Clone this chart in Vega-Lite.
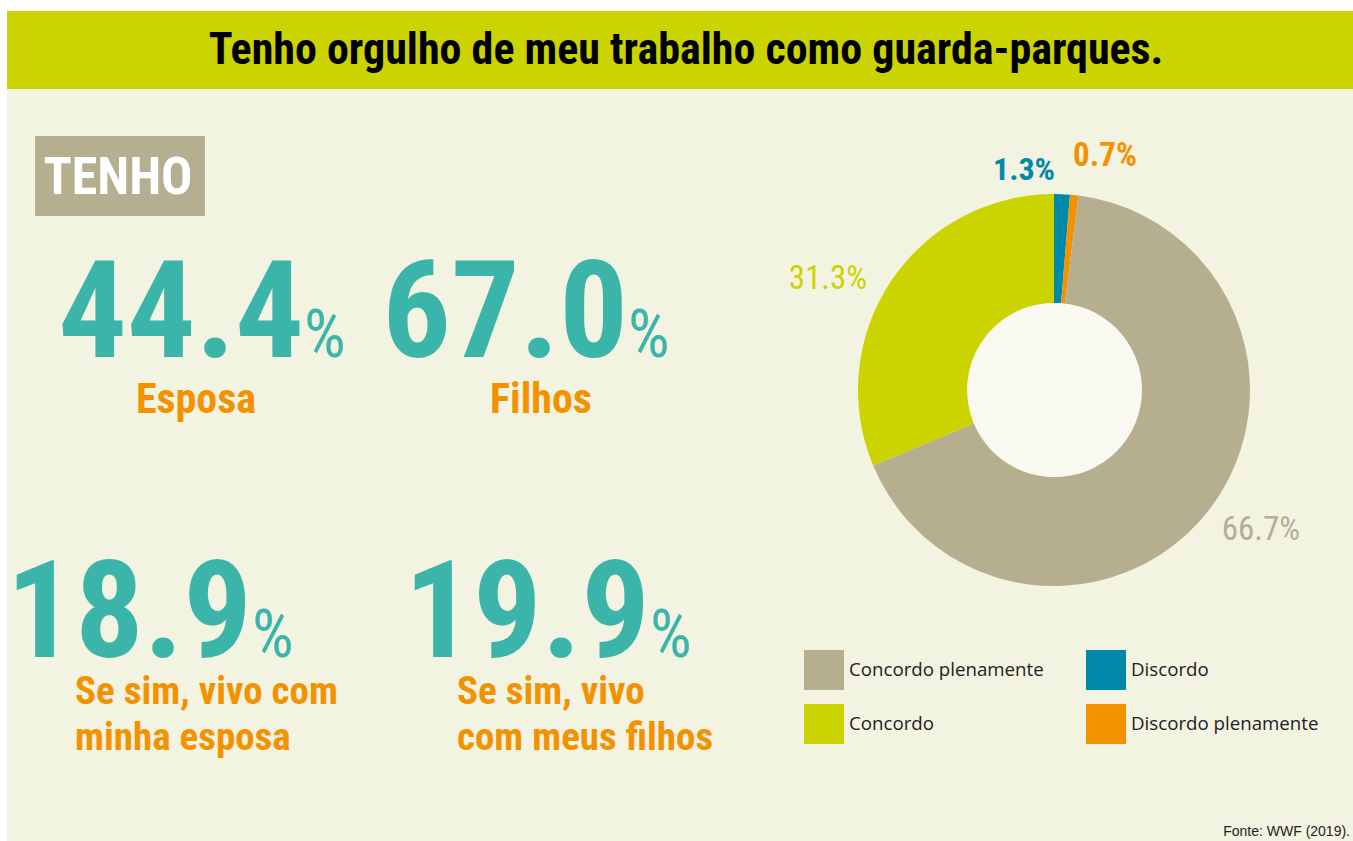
{
  "$schema": "https://vega.github.io/schema/vega-lite/v6.json",
  "width": 1353,
  "height": 841,
  "autosize": {"type": "none"},
  "padding": 0,
  "background": "#ffffff",
  "config": {"view": {"stroke": null}},
  "datasets": {
    "painel": [{"parte": "fundo"}],
    "titulo": [{"texto": "Tenho orgulho de meu trabalho como guarda-parques."}],
    "destaque": [{"texto": "TENHO"}],
    "estatisticas": [
      {"id": "esposa", "valor": 44.4, "rotulo": "Esposa"},
      {"id": "filhos", "valor": 67.0, "rotulo": "Filhos"},
      {"id": "vive_esposa", "valor": 18.9, "rotulo": "Se sim, vivo com\nminha esposa"},
      {"id": "vive_filhos", "valor": 19.9, "rotulo": "Se sim, vivo\ncom meus filhos"}
    ],
    "respostas": [
      {"resposta": "Discordo", "pct": 1.3, "ordem": 1},
      {"resposta": "Discordo plenamente", "pct": 0.7, "ordem": 2},
      {"resposta": "Concordo plenamente", "pct": 66.7, "ordem": 3},
      {"resposta": "Concordo", "pct": 31.3, "ordem": 4}
    ],
    "fonte": [{"texto": "Fonte: WWF (2019)."}]
  },
  "layer": [
    {
      "data": {"name": "painel"},
      "mark": {"type": "rect", "color": "#f3f3e2"},
      "encoding": {
        "x": {"datum": 7, "type": "quantitative", "scale": {"domain": [0, 1353], "nice": false, "zero": false}, "axis": null},
        "x2": {"datum": 1353},
        "y": {"datum": 89, "type": "quantitative", "scale": {"domain": [0, 841], "nice": false, "zero": false, "reverse": true}, "axis": null},
        "y2": {"datum": 841}
      }
    },
    {
      "data": {"name": "painel"},
      "mark": {"type": "rect", "color": "#cbd300"},
      "encoding": {
        "x": {"datum": 7, "type": "quantitative", "scale": {"domain": [0, 1353], "nice": false, "zero": false}, "axis": null},
        "x2": {"datum": 1353},
        "y": {"datum": 11, "type": "quantitative", "scale": {"domain": [0, 841], "nice": false, "zero": false, "reverse": true}, "axis": null},
        "y2": {"datum": 89}
      }
    },
    {
      "data": {"name": "titulo"},
      "mark": {"type": "text", "font": "Roboto Condensed, sans-serif", "fontWeight": "bold", "fontSize": 44, "color": "#000000", "align": "center", "baseline": "alphabetic"},
      "encoding": {
        "x": {"datum": 686, "type": "quantitative", "scale": {"domain": [0, 1353], "nice": false, "zero": false}, "axis": null},
        "y": {"datum": 64, "type": "quantitative", "scale": {"domain": [0, 841], "nice": false, "zero": false, "reverse": true}, "axis": null},
        "text": {"field": "texto"}
      }
    },
    {
      "data": {"name": "destaque"},
      "mark": {"type": "rect", "color": "#b5ae8f"},
      "encoding": {
        "x": {"datum": 35, "type": "quantitative", "scale": {"domain": [0, 1353], "nice": false, "zero": false}, "axis": null},
        "x2": {"datum": 205},
        "y": {"datum": 136, "type": "quantitative", "scale": {"domain": [0, 841], "nice": false, "zero": false, "reverse": true}, "axis": null},
        "y2": {"datum": 216}
      }
    },
    {
      "data": {"name": "destaque"},
      "mark": {"type": "text", "font": "Roboto Condensed, sans-serif", "fontWeight": "bold", "fontSize": 52, "color": "#ffffff", "align": "center", "baseline": "alphabetic"},
      "encoding": {
        "x": {"datum": 118, "type": "quantitative", "scale": {"domain": [0, 1353], "nice": false, "zero": false}, "axis": null},
        "y": {"datum": 194, "type": "quantitative", "scale": {"domain": [0, 841], "nice": false, "zero": false, "reverse": true}, "axis": null},
        "text": {"field": "texto"}
      }
    },
    {
      "data": {"name": "estatisticas"},
      "transform": [{"filter": "datum.id == 'esposa'"}],
      "mark": {"type": "text", "font": "Roboto Condensed, sans-serif", "fontWeight": "bold", "fontSize": 136, "color": "#3bb5aa", "align": "right", "baseline": "alphabetic"},
      "encoding": {
        "x": {"datum": 304, "type": "quantitative", "scale": {"domain": [0, 1353], "nice": false, "zero": false}, "axis": null},
        "y": {"datum": 357, "type": "quantitative", "scale": {"domain": [0, 841], "nice": false, "zero": false, "reverse": true}, "axis": null},
        "text": {"field": "valor", "type": "quantitative", "format": ".1f"}
      }
    },
    {
      "data": {"name": "estatisticas"},
      "transform": [{"filter": "datum.id == 'esposa'"}],
      "mark": {"type": "text", "font": "Roboto Condensed, sans-serif", "fontSize": 66, "color": "#3bb5aa", "align": "left", "baseline": "alphabetic", "text": "%"},
      "encoding": {
        "x": {"datum": 304, "type": "quantitative", "scale": {"domain": [0, 1353], "nice": false, "zero": false}, "axis": null},
        "y": {"datum": 357, "type": "quantitative", "scale": {"domain": [0, 841], "nice": false, "zero": false, "reverse": true}, "axis": null}
      }
    },
    {
      "data": {"name": "estatisticas"},
      "transform": [{"filter": "datum.id == 'esposa'"}],
      "mark": {"type": "text", "font": "Roboto Condensed, sans-serif", "fontWeight": "bold", "fontSize": 42, "color": "#f39200", "align": "center", "baseline": "alphabetic"},
      "encoding": {
        "x": {"datum": 196, "type": "quantitative", "scale": {"domain": [0, 1353], "nice": false, "zero": false}, "axis": null},
        "y": {"datum": 413, "type": "quantitative", "scale": {"domain": [0, 841], "nice": false, "zero": false, "reverse": true}, "axis": null},
        "text": {"field": "rotulo"}
      }
    },
    {
      "data": {"name": "estatisticas"},
      "transform": [{"filter": "datum.id == 'filhos'"}],
      "mark": {"type": "text", "font": "Roboto Condensed, sans-serif", "fontWeight": "bold", "fontSize": 136, "color": "#3bb5aa", "align": "right", "baseline": "alphabetic"},
      "encoding": {
        "x": {"datum": 628, "type": "quantitative", "scale": {"domain": [0, 1353], "nice": false, "zero": false}, "axis": null},
        "y": {"datum": 357, "type": "quantitative", "scale": {"domain": [0, 841], "nice": false, "zero": false, "reverse": true}, "axis": null},
        "text": {"field": "valor", "type": "quantitative", "format": ".1f"}
      }
    },
    {
      "data": {"name": "estatisticas"},
      "transform": [{"filter": "datum.id == 'filhos'"}],
      "mark": {"type": "text", "font": "Roboto Condensed, sans-serif", "fontSize": 66, "color": "#3bb5aa", "align": "left", "baseline": "alphabetic", "text": "%"},
      "encoding": {
        "x": {"datum": 628, "type": "quantitative", "scale": {"domain": [0, 1353], "nice": false, "zero": false}, "axis": null},
        "y": {"datum": 357, "type": "quantitative", "scale": {"domain": [0, 841], "nice": false, "zero": false, "reverse": true}, "axis": null}
      }
    },
    {
      "data": {"name": "estatisticas"},
      "transform": [{"filter": "datum.id == 'filhos'"}],
      "mark": {"type": "text", "font": "Roboto Condensed, sans-serif", "fontWeight": "bold", "fontSize": 42, "color": "#f39200", "align": "center", "baseline": "alphabetic"},
      "encoding": {
        "x": {"datum": 541, "type": "quantitative", "scale": {"domain": [0, 1353], "nice": false, "zero": false}, "axis": null},
        "y": {"datum": 413, "type": "quantitative", "scale": {"domain": [0, 841], "nice": false, "zero": false, "reverse": true}, "axis": null},
        "text": {"field": "rotulo"}
      }
    },
    {
      "data": {"name": "estatisticas"},
      "transform": [{"filter": "datum.id == 'vive_esposa'"}],
      "mark": {"type": "text", "font": "Roboto Condensed, sans-serif", "fontWeight": "bold", "fontSize": 136, "color": "#3bb5aa", "align": "right", "baseline": "alphabetic"},
      "encoding": {
        "x": {"datum": 252, "type": "quantitative", "scale": {"domain": [0, 1353], "nice": false, "zero": false}, "axis": null},
        "y": {"datum": 657, "type": "quantitative", "scale": {"domain": [0, 841], "nice": false, "zero": false, "reverse": true}, "axis": null},
        "text": {"field": "valor", "type": "quantitative", "format": ".1f"}
      }
    },
    {
      "data": {"name": "estatisticas"},
      "transform": [{"filter": "datum.id == 'vive_esposa'"}],
      "mark": {"type": "text", "font": "Roboto Condensed, sans-serif", "fontSize": 66, "color": "#3bb5aa", "align": "left", "baseline": "alphabetic", "text": "%"},
      "encoding": {
        "x": {"datum": 252, "type": "quantitative", "scale": {"domain": [0, 1353], "nice": false, "zero": false}, "axis": null},
        "y": {"datum": 657, "type": "quantitative", "scale": {"domain": [0, 841], "nice": false, "zero": false, "reverse": true}, "axis": null}
      }
    },
    {
      "data": {"name": "estatisticas"},
      "transform": [{"filter": "datum.id == 'vive_esposa'"}],
      "mark": {"type": "text", "font": "Roboto Condensed, sans-serif", "fontWeight": "bold", "fontSize": 39, "lineHeight": 46, "lineBreak": "\n", "color": "#f39200", "align": "left", "baseline": "alphabetic"},
      "encoding": {
        "x": {"datum": 75, "type": "quantitative", "scale": {"domain": [0, 1353], "nice": false, "zero": false}, "axis": null},
        "y": {"datum": 704, "type": "quantitative", "scale": {"domain": [0, 841], "nice": false, "zero": false, "reverse": true}, "axis": null},
        "text": {"field": "rotulo"}
      }
    },
    {
      "data": {"name": "estatisticas"},
      "transform": [{"filter": "datum.id == 'vive_filhos'"}],
      "mark": {"type": "text", "font": "Roboto Condensed, sans-serif", "fontWeight": "bold", "fontSize": 136, "color": "#3bb5aa", "align": "right", "baseline": "alphabetic"},
      "encoding": {
        "x": {"datum": 650, "type": "quantitative", "scale": {"domain": [0, 1353], "nice": false, "zero": false}, "axis": null},
        "y": {"datum": 657, "type": "quantitative", "scale": {"domain": [0, 841], "nice": false, "zero": false, "reverse": true}, "axis": null},
        "text": {"field": "valor", "type": "quantitative", "format": ".1f"}
      }
    },
    {
      "data": {"name": "estatisticas"},
      "transform": [{"filter": "datum.id == 'vive_filhos'"}],
      "mark": {"type": "text", "font": "Roboto Condensed, sans-serif", "fontSize": 66, "color": "#3bb5aa", "align": "left", "baseline": "alphabetic", "text": "%"},
      "encoding": {
        "x": {"datum": 650, "type": "quantitative", "scale": {"domain": [0, 1353], "nice": false, "zero": false}, "axis": null},
        "y": {"datum": 657, "type": "quantitative", "scale": {"domain": [0, 841], "nice": false, "zero": false, "reverse": true}, "axis": null}
      }
    },
    {
      "data": {"name": "estatisticas"},
      "transform": [{"filter": "datum.id == 'vive_filhos'"}],
      "mark": {"type": "text", "font": "Roboto Condensed, sans-serif", "fontWeight": "bold", "fontSize": 39, "lineHeight": 46, "lineBreak": "\n", "color": "#f39200", "align": "left", "baseline": "alphabetic"},
      "encoding": {
        "x": {"datum": 457, "type": "quantitative", "scale": {"domain": [0, 1353], "nice": false, "zero": false}, "axis": null},
        "y": {"datum": 704, "type": "quantitative", "scale": {"domain": [0, 841], "nice": false, "zero": false, "reverse": true}, "axis": null},
        "text": {"field": "rotulo"}
      }
    },
    {
      "data": {"name": "respostas"},
      "mark": {"type": "arc", "innerRadius": 87, "outerRadius": 196},
      "encoding": {
        "x": {"datum": 1054, "type": "quantitative", "scale": {"domain": [0, 1353], "nice": false, "zero": false}, "axis": null},
        "y": {"datum": 390, "type": "quantitative", "scale": {"domain": [0, 841], "nice": false, "zero": false, "reverse": true}, "axis": null},
        "theta": {"field": "pct", "type": "quantitative", "stack": true},
        "order": {"field": "ordem", "type": "quantitative", "sort": "ascending"},
        "color": {
          "field": "resposta",
          "type": "nominal",
          "scale": {
            "domain": ["Concordo plenamente", "Concordo", "Discordo", "Discordo plenamente"],
            "range": ["#b5ae8f", "#cbd300", "#0089a8", "#f39200"]
          },
          "legend": {
            "title": null,
            "orient": "none",
            "legendX": 804,
            "legendY": 650,
            "columns": 2,
            "padding": 0,
            "symbolType": "square",
            "symbolSize": 1600,
            "symbolStrokeWidth": 0,
            "symbolOpacity": 1,
            "labelFont": "Open Sans",
            "labelFontSize": 18.7,
            "labelColor": "#222222",
            "labelOffset": 5,
            "labelLimit": 400,
            "rowPadding": 14,
            "columnPadding": 42
          }
        }
      }
    },
    {
      "data": {"name": "painel"},
      "mark": {"type": "point", "shape": "circle", "filled": true, "size": 30276, "color": "#f9f9f2", "opacity": 1},
      "encoding": {
        "x": {"datum": 1055, "type": "quantitative", "scale": {"domain": [0, 1353], "nice": false, "zero": false}, "axis": null},
        "y": {"datum": 390, "type": "quantitative", "scale": {"domain": [0, 841], "nice": false, "zero": false, "reverse": true}, "axis": null}
      }
    },
    {
      "data": {"name": "respostas"},
      "transform": [{"filter": "datum.resposta == 'Discordo'"}, {"calculate": "format(datum.pct, '.1f') + '%'", "as": "rotulo"}],
      "mark": {"type": "text", "font": "Roboto Condensed, sans-serif", "fontWeight": "bold", "fontSize": 32, "color": "#0089a8", "align": "center", "baseline": "alphabetic"},
      "encoding": {
        "x": {"datum": 1024, "type": "quantitative", "scale": {"domain": [0, 1353], "nice": false, "zero": false}, "axis": null},
        "y": {"datum": 180, "type": "quantitative", "scale": {"domain": [0, 841], "nice": false, "zero": false, "reverse": true}, "axis": null},
        "text": {"field": "rotulo"}
      }
    },
    {
      "data": {"name": "respostas"},
      "transform": [{"filter": "datum.resposta == 'Discordo plenamente'"}, {"calculate": "format(datum.pct, '.1f') + '%'", "as": "rotulo"}],
      "mark": {"type": "text", "font": "Roboto Condensed, sans-serif", "fontWeight": "bold", "fontSize": 33, "color": "#f39200", "align": "center", "baseline": "alphabetic"},
      "encoding": {
        "x": {"datum": 1105, "type": "quantitative", "scale": {"domain": [0, 1353], "nice": false, "zero": false}, "axis": null},
        "y": {"datum": 166, "type": "quantitative", "scale": {"domain": [0, 841], "nice": false, "zero": false, "reverse": true}, "axis": null},
        "text": {"field": "rotulo"}
      }
    },
    {
      "data": {"name": "respostas"},
      "transform": [{"filter": "datum.resposta == 'Concordo'"}, {"calculate": "format(datum.pct, '.1f') + '%'", "as": "rotulo"}],
      "mark": {"type": "text", "font": "Roboto Condensed, sans-serif", "fontSize": 33, "color": "#cbd300", "align": "center", "baseline": "alphabetic"},
      "encoding": {
        "x": {"datum": 828, "type": "quantitative", "scale": {"domain": [0, 1353], "nice": false, "zero": false}, "axis": null},
        "y": {"datum": 289, "type": "quantitative", "scale": {"domain": [0, 841], "nice": false, "zero": false, "reverse": true}, "axis": null},
        "text": {"field": "rotulo"}
      }
    },
    {
      "data": {"name": "respostas"},
      "transform": [{"filter": "datum.resposta == 'Concordo plenamente'"}, {"calculate": "format(datum.pct, '.1f') + '%'", "as": "rotulo"}],
      "mark": {"type": "text", "font": "Roboto Condensed, sans-serif", "fontSize": 33, "color": "#b5ae8f", "align": "center", "baseline": "alphabetic"},
      "encoding": {
        "x": {"datum": 1261, "type": "quantitative", "scale": {"domain": [0, 1353], "nice": false, "zero": false}, "axis": null},
        "y": {"datum": 540, "type": "quantitative", "scale": {"domain": [0, 841], "nice": false, "zero": false, "reverse": true}, "axis": null},
        "text": {"field": "rotulo"}
      }
    },
    {
      "data": {"name": "fonte"},
      "mark": {"type": "text", "font": "Liberation Sans", "fontSize": 14, "color": "#222222", "align": "right", "baseline": "alphabetic"},
      "encoding": {
        "x": {"datum": 1350, "type": "quantitative", "scale": {"domain": [0, 1353], "nice": false, "zero": false}, "axis": null},
        "y": {"datum": 836, "type": "quantitative", "scale": {"domain": [0, 841], "nice": false, "zero": false, "reverse": true}, "axis": null},
        "text": {"field": "texto"}
      }
    }
  ]
}
